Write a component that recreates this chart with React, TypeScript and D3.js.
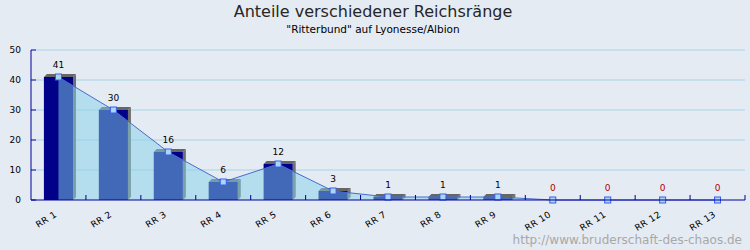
import React from "react";
import * as d3 from "d3";

const categories = ["RR 1","RR 2","RR 3","RR 4","RR 5","RR 6","RR 7","RR 8","RR 9","RR 10","RR 11","RR 12","RR 13"];
const values = [41, 30, 16, 6, 12, 3, 1, 1, 1, 0, 0, 0, 0];
const yTicks = [0, 10, 20, 30, 40, 50];
const title = "Anteile verschiedener Reichsränge";
const subtitle = "\"Ritterbund\" auf Lyonesse/Albion";
const watermark = "http://www.bruderschaft-des-chaos.de";

const W = 750, H = 250;
const left = 31, right = 745, top = 50, bottom = 200;
const depth = 3;
const font = "DejaVu Sans, Verdana, sans-serif";

export default function App() {
  const x = d3.scaleBand<string>().domain(categories).range([left, right]).padding(0);
  const y = d3.scaleLinear().domain([0, 50]).range([bottom, top]);
  const bw = x.bandwidth() * 0.53;
  const cx = (c: string) => (x(c) as number) + x.bandwidth() / 2;
  const pts = categories.map((c, i) => ({ c, v: values[i] }));
  const area = d3.area<{ c: string; v: number }>().x(d => cx(d.c)).y0(y(0)).y1(d => y(d.v));
  const line = d3.line<{ c: string; v: number }>().x(d => cx(d.c)).y(d => y(d.v));

  return (
    <svg width={W} height={H} style={{ position: "absolute", left: 0, top: 0, display: "block" }} fontFamily={font}>
      <rect x={0} y={0} width={W} height={H} fill="#e5ebf3" />
      <text x={373} y={17} textAnchor="middle" fontSize={16} fill="#262626">{title}</text>
      <text x={373} y={33} textAnchor="middle" fontSize={10.5} fill="#000">{subtitle}</text>
      {/* grid */}
      {yTicks.filter(t => t > 0).map(t => (
        <line key={t} x1={left + 5} x2={right} y1={y(t)} y2={y(t)} stroke="#a6d6e6" strokeWidth={1} />
      ))}
      {/* bars */}
      {pts.filter(p => p.v > 0).map(p => {
        const x0 = cx(p.c) - bw / 2, x1 = cx(p.c) + bw / 2;
        const yt = y(p.v), yb = y(0);
        return (
          <g key={p.c}>
            <polygon points={`${x0},${yt} ${x0 + depth},${yt - depth} ${x1 + depth},${yt - depth} ${x1},${yt}`} fill="#666666" />
            <polygon points={`${x1},${yt} ${x1 + depth},${yt - depth} ${x1 + depth},${yb - depth} ${x1},${yb}`} fill="#707070" />
            <rect x={x0} y={yt} width={bw} height={yb - yt} fill="#000088" />
          </g>
        );
      })}
      {/* area + line */}
      <path d={area(pts) || ""} fill="rgb(132,208,232)" fillOpacity={0.5} />
      <path d={line(pts) || ""} fill="none" stroke="#4a6ad0" strokeWidth={1} />
      {pts.map(p => (
        <rect key={p.c} x={cx(p.c) - 3} y={y(p.v) - 3} width={6} height={6} fill="#a8d8f0" stroke="#3c5cf0" strokeWidth={1} />
      ))}
      {/* value labels */}
      {pts.map(p => (
        <text key={p.c} x={cx(p.c)} y={y(p.v) - 9} textAnchor="middle" fontSize={9} fill={p.v === 0 ? "#b00000" : "#000"}>{p.v}</text>
      ))}
      {/* axes */}
      <line x1={left} x2={left} y1={top} y2={bottom} stroke="#000099" />
      <line x1={left} x2={right} y1={bottom} y2={bottom} stroke="#000099" />
      {yTicks.map(t => (
        <g key={t}>
          <line x1={left} x2={left + 5} y1={y(t)} y2={y(t)} stroke="#000099" />
          <text x={21} y={y(t)} dy="0.35em" textAnchor="end" fontSize={9} fill="#000">{t}</text>
        </g>
      ))}
      {categories.map(c => (
        <g key={c}>
          <line x1={(x(c) as number) + x.bandwidth()} x2={(x(c) as number) + x.bandwidth()} y1={bottom} y2={bottom - 5} stroke="#000099" />
          <text transform={`translate(${cx(c) - 1},216) rotate(-32)`} textAnchor="end" fontSize={9} letterSpacing={0.4} fill="#000">{c}</text>
        </g>
      ))}
      <text x={742} y={244} textAnchor="end" fontSize={12} fill="#a8a8a8">{watermark}</text>
    </svg>
  );
}
